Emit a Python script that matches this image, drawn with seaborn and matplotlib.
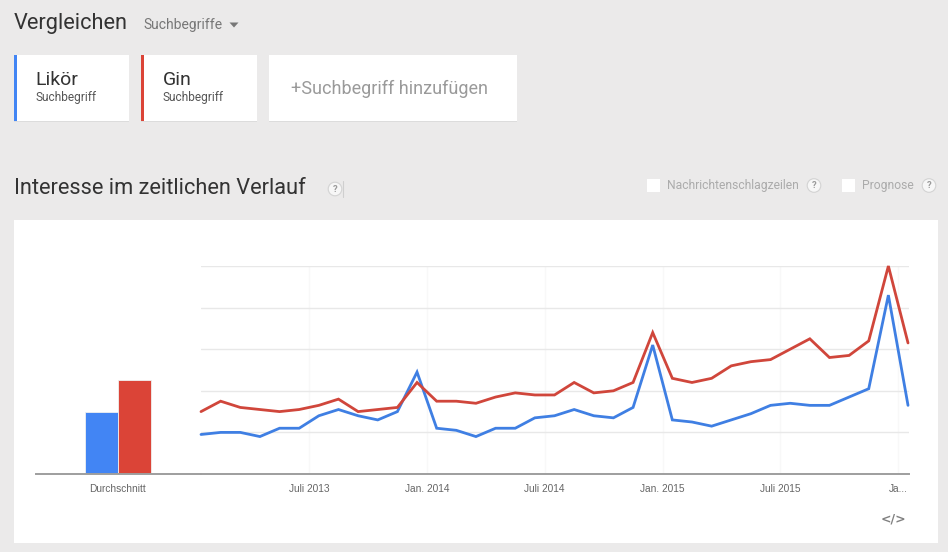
import numpy as np
import pandas as pd
import matplotlib
matplotlib.use("Agg")
import matplotlib.pyplot as plt
from matplotlib.patches import Rectangle, Circle, Polygon
import seaborn as sns

# ---------------- data ----------------
months = [f"{y}-{m:02d}" for y in (2013, 2014, 2015) for m in range(1, 13)] + ["2016-01"]
likoer = [19, 20, 20, 18, 22, 22, 28, 31, 28, 26, 30, 49, 22, 21, 18, 22, 22, 27, 28,
          31, 28, 27, 32, 62, 26, 25, 23, 26, 29, 33, 34, 33, 33, 37, 41, 86, 33]
gin = [30, 35, 32, 31, 30, 31, 33, 36, 30, 31, 32, 44, 35, 35, 34, 37, 39, 38, 38,
       44, 39, 40, 44, 68, 46, 44, 46, 52, 54, 55, 60, 65, 56, 57, 64, 100, 63]
terms = ["Likör", "Gin"]
averages = [30, 45]
avg_label = "Durchschnitt"
tick_months = ["2013-07", "2014-01", "2014-07", "2015-01", "2015-07", "2016-01"]
tick_labels = ["Juli 2013", "Jan. 2014", "Juli 2014", "Jan. 2015", "Juli 2015", "Ja..."]

# ---------------- style ----------------
sns.set_theme(style="white")
plt.rcParams["font.family"] = ["Roboto", "DejaVu Sans"]

W, H = 948, 552
BG = "#ebeaea"
BLUE_BAR, RED_BAR = "#4285f4", "#db4437"
BLUE_LINE, RED_LINE = "#3f7fe3", "#d0463b"

fig = plt.figure(figsize=(W / 100, H / 100), dpi=100)
fig.patch.set_facecolor(BG)


def px_axes(x0, y0, x1, y1, **kw):
    return fig.add_axes([x0 / W, 1 - y1 / H, (x1 - x0) / W, (y1 - y0) / H], **kw)


# background drawing layer in pixel coordinates
bg = fig.add_axes([0, 0, 1, 1], zorder=0)
bg.set_xlim(0, W)
bg.set_ylim(H, 0)
bg.axis("off")
bg.set_facecolor("none")

# header
bg.text(14, 29, "Vergleichen", fontsize=15.7, color="#333333", va="baseline", ha="left")
bg.text(143, 28.5, "Suchbegriffe", fontsize=10.0, color="#777777", va="baseline", ha="left")
bg.add_patch(Polygon([[229.5, 22.5], [238.5, 22.5], [234, 27.5]], closed=True, fc="#777777", ec="none"))

# cards
def card(x0, x1, stripe=None):
    bg.add_patch(Rectangle((x0 + 0.5, 56), x1 - x0, 66, fc="#dcdcdc", ec="none"))
    bg.add_patch(Rectangle((x0, 55), x1 - x0, 66, fc="white", ec="none"))
    if stripe:
        bg.add_patch(Rectangle((x0, 55), 3, 66, fc=stripe, ec="none"))

card(14, 129, BLUE_BAR)
card(141, 257, RED_BAR)
card(269, 517)
bg.text(35.5, 85, terms[0], fontsize=14, color="#333333", va="baseline")
bg.text(35.5, 101.5, "Suchbegriff", fontsize=8.6, color="#555555", va="baseline")
bg.text(163, 85, terms[1], fontsize=14, color="#333333", va="baseline")
bg.text(163, 101.5, "Suchbegriff", fontsize=8.6, color="#555555", va="baseline")
bg.text(291, 93.5, "+Suchbegriff hinzufügen", fontsize=13.0, color="#9a9a9a", va="baseline")

# section title
bg.text(14, 194, "Interesse im zeitlichen Verlauf", fontsize=15.7, color="#333333", va="baseline")


def qmark(x, y):
    bg.add_patch(Circle((x, y), 6.8, fc="#f7f7f7", ec="#d3d3d3", lw=0.8))
    bg.text(x, y + 0.5, "?", fontsize=6.8, color="#9a9a9a", ha="center", va="center", fontweight="bold")


qmark(335, 189)
bg.plot([343, 343], [181, 197], color="#cfcfcf", lw=0.8)

# checkboxes
bg.add_patch(Rectangle((647, 179), 13, 13, fc="white", ec="none"))
bg.text(667, 189.5, "Nachrichtenschlagzeilen", fontsize=8.7, color="#ababab", va="baseline")
qmark(814, 185.5)
bg.add_patch(Rectangle((842, 179), 13, 13, fc="white", ec="none"))
bg.text(862, 189.5, "Prognose", fontsize=8.7, color="#ababab", va="baseline")
qmark(929, 185.5)

# white panel
bg.add_patch(Rectangle((14, 220), 924, 323, fc="white", ec="none"))
bg.text(893, 519, "</>", fontsize=9, color="#808080", ha="center", va="center",
        fontweight="bold", family=["DejaVu Sans"])

# ---------------- line chart ----------------
ax = px_axes(201, 266, 909, 474, zorder=2)
ax.set_facecolor("none")
n = len(months)
df = pd.DataFrame({
    "idx": list(range(n)) * 2,
    "value": likoer + gin,
    "term": [terms[0]] * n + [terms[1]] * n,
})
sns.lineplot(data=df, x="idx", y="value", hue="term",
             palette={terms[0]: BLUE_LINE, terms[1]: RED_LINE},
             linewidth=2.0, ax=ax, legend=False)
for ln in ax.lines:
    ln.set_clip_on(False)
    ln.set_solid_joinstyle("miter")
ax.set_xlim(0, 36.05)
ax.set_ylim(0, 100)
ax.set_yticks([20, 40, 60, 80, 100])
ax.set_yticklabels([])
ax.set_xticks([months.index(m) - 0.5 for m in tick_months])
ax.set_xticklabels(tick_labels)
ax.grid(True, axis="y", color="#e8e8e8", lw=1)
ax.grid(True, axis="x", color="#f8f8f8", lw=1)
ax.set_axisbelow(True)
ax.set_xlabel("")
ax.set_ylabel("")
for s in ["top", "left", "right"]:
    ax.spines[s].set_visible(False)
ax.spines["bottom"].set_color("#9e9e9e")
ax.spines["bottom"].set_linewidth(1.4)
ax.tick_params(axis="x", length=0, pad=7, labelsize=7.3, labelcolor="#666666")
ax.tick_params(axis="y", length=0)
for lab in ax.get_xticklabels():
    lab.set_fontfamily(["Liberation Sans"])

# ---------------- average bars ----------------
axb = px_axes(36, 266, 201, 474, zorder=2)
axb.set_facecolor("none")
dfb = pd.DataFrame({"cat": [avg_label] * 2, "term": terms, "avg": averages})
sns.barplot(data=dfb, x="cat", y="avg", hue="term",
            palette={terms[0]: BLUE_BAR, terms[1]: RED_BAR},
            width=0.4, saturation=1, edgecolor="#f0f0f0", linewidth=0.6,
            ax=axb, legend=False)
axb.set_xlim(-0.495, 0.505)
axb.set_ylim(0, 100)
axb.set_yticks([])
axb.set_xlabel("")
axb.set_ylabel("")
for s in ["top", "left", "right"]:
    axb.spines[s].set_visible(False)
axb.spines["bottom"].set_color("#9e9e9e")
axb.spines["bottom"].set_linewidth(1.4)
axb.tick_params(axis="x", length=0, pad=7, labelsize=7.3, labelcolor="#666666")
for lab in axb.get_xticklabels():
    lab.set_fontfamily(["Liberation Sans"])

fig.savefig("out.png", dpi=100, facecolor=BG)
